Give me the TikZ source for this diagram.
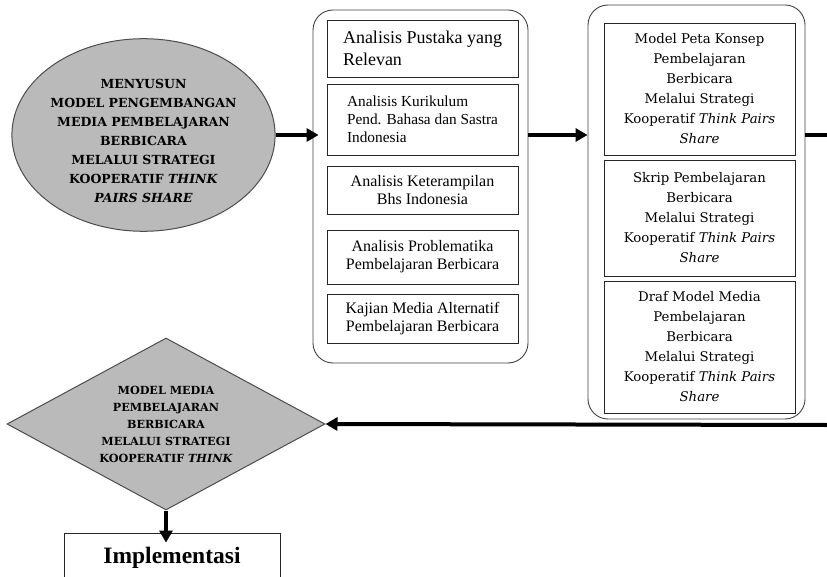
\documentclass[tikz,border=0pt]{standalone}
\usepackage{fontspec}
\setmainfont{Liberation Serif}
\newfontfamily\cambria{DejaVu Serif}
\usetikzlibrary{positioning,arrows.meta,shapes.geometric}

\begin{document}
\begin{tikzpicture}[x=1pt, y=-1pt,
  grp/.style={draw=black!75, line width=0.9pt, rounded corners=20pt},
  itm/.style={draw=black!85, line width=0.8pt, inner sep=0pt, align=center},
  shp/.style={draw=black!70, line width=1pt, fill=black!27, inner sep=0pt, align=center},
  arw/.style={line width=4pt, -{Triangle[length=12pt,width=13pt]}},
  every node/.style={font=\fontsize{16}{18}\selectfont}]

\useasboundingbox (0,0) rectangle (827,577);
\clip (0,0) rectangle (827,577);

% Starting ellipse
\node[shp, ellipse, minimum width=229pt, minimum height=174pt,
  font=\cambria\bfseries\fontsize{12.5}{19}\selectfont] (ell) at (143.5,135)
  {\rule{0pt}{22pt}MENYUSUN\\MODEL PENGEMBANGAN\\MEDIA PEMBELAJARAN\\BERBICARA\\MELALUI STRATEGI\\KOOPERATIF \textit{THINK}\\\textit{PAIRS SHARE}};

% Analysis group
\node[grp, minimum width=215pt, minimum height=353pt] (g1) at (420.5,186.5) {};
\node[itm, align=left, minimum width=191pt, minimum height=57pt, font=\fontsize{18}{21.5}\selectfont] (a1) at (422.5,48.5) {Analisis Pustaka yang\\Relevan};
\node[itm, align=left, minimum width=191pt, minimum height=71pt, font=\fontsize{15.3}{18}\selectfont] (a2) at (422.5,119.5) {Analisis Kurikulum\\Pend. Bahasa dan Sastra\\Indonesia};
\node[itm, minimum width=191pt, minimum height=48pt] (a3) at (422.5,190) {Analisis Keterampilan\\Bhs Indonesia};
\node[itm, minimum width=191pt, minimum height=54pt] (a4) at (422.5,257) {Analisis Problematika\\Pembelajaran Berbicara};
\node[itm, minimum width=191pt, minimum height=49pt] (a5) at (422.5,318.5) {Kajian Media Alternatif\\Pembelajaran Berbicara};

% Draft group
\node[grp, minimum width=217pt, minimum height=414pt] (g2) at (696.5,212) {};
\node[itm, minimum width=191pt, minimum height=132pt, font=\cambria\fontsize{13.3}{20}\selectfont] (b1) at (699.5,89)
  {Model Peta Konsep\\Pembelajaran\\Berbicara\\Melalui Strategi\\Kooperatif \textit{Think Pairs}\\\textit{Share}};
\node[itm, minimum width=191pt, minimum height=116pt, font=\cambria\fontsize{13.3}{20}\selectfont] (b2) at (699.5,218)
  {Skrip Pembelajaran\\Berbicara\\Melalui Strategi\\Kooperatif \textit{Think Pairs}\\\textit{Share}};
\node[itm, minimum width=191pt, minimum height=132pt, font=\cambria\fontsize{13.3}{20}\selectfont] (b3) at (699.5,347)
  {Draf Model Media\\Pembelajaran\\Berbicara\\Melalui Strategi\\Kooperatif \textit{Think Pairs}\\\textit{Share}};

% Resulting model and implementation
\node[shp, diamond, aspect=1.85, minimum width=318pt, minimum height=172pt,
  font=\cambria\bfseries\fontsize{11.2}{17}\selectfont] (dia) at (166,424)
  {MODEL MEDIA\\PEMBELAJARAN\\BERBICARA\\MELALUI STRATEGI\\KOOPERATIF \textit{THINK}};
\node[itm, minimum width=216pt, minimum height=50pt, font=\bfseries\fontsize{23.5}{27}\selectfont] (impl) at (172,558) {Implementasi};

\coordinate (rtop) at (827,135);
\coordinate (rbot) at (827,425);

% Connectors
\draw[arw, shorten >=8pt] (ell.east) -- (ell.east -| a1.west);
\draw[arw] (g1.east |- ell.east) -- (g2.west |- ell.east);
\draw[line width=4pt] (g2.east |- rtop) -- (rtop);
\draw[arw] (rbot) -- (dia.east);
\draw[arw, shorten >=-10pt] (dia.south) -- (dia.south |- impl.north);
\end{tikzpicture}
\end{document}
